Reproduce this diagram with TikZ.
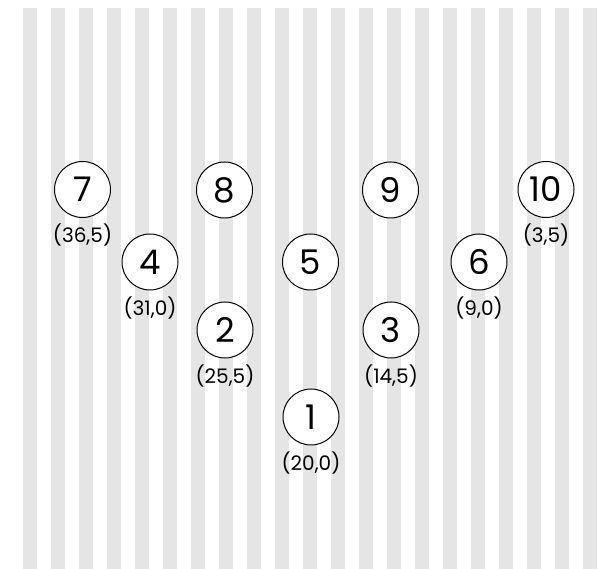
\documentclass[tikz,border=0pt]{standalone}
\usepackage{fontspec}
\setmainfont{Poppins}
\usetikzlibrary{positioning}

\begin{document}
\begin{tikzpicture}[x=1pt, y=-1pt,
    bowlpin/.style={circle, draw, fill=white, line width=1pt, minimum size=56pt, inner sep=0pt, font=\fontsize{34}{34}\selectfont},
    spotlabel/.style={inner sep=0pt, font=\fontsize{20}{20}\selectfont}]
        % Marco
        \useasboundingbox (0,0) rectangle (598,569);

        % Tablas de la pista
        \foreach \k in {0,...,20}
            \fill[black!10] (23+28*\k, 8) rectangle (37+28*\k, 569);

        % Bolos, fila trasera
        \node[bowlpin] (b7) at (82.5,189.5) {7};
        \node[bowlpin] (b8) at (224.5,190) {8};
        \node[bowlpin] (b9) at (390.5,190) {9};
        \node[bowlpin] (b10) at (546,189.5) {10};

        % Tercera fila
        \node[bowlpin] (b4) at (150,262) {4};
        \node[bowlpin] (b5) at (310.5,262) {5};
        \node[bowlpin] (b6) at (479,262) {6};

        % Segunda fila y bolo delantero
        \node[bowlpin] (b2) at (225,330) {2};
        \node[bowlpin] (b3) at (391,330) {3};
        \node[bowlpin] (b1) at (311,417) {1};

        % Posiciones
        \node[spotlabel, below=6pt of b7] (l7) {(36,5)};
        \node[spotlabel, below=6pt of b10] (l10) {(3,5)};
        \node[spotlabel, below=6pt of b4] (l4) {(31,0)};
        \node[spotlabel, below=6pt of b6] (l6) {(9,0)};
        \node[spotlabel, below=6pt of b2] (l2) {(25,5)};
        \node[spotlabel, below=6pt of b3] (l3) {(14,5)};
        \node[spotlabel, below=6pt of b1] (l1) {(20,0)};
\end{tikzpicture}
\end{document}
